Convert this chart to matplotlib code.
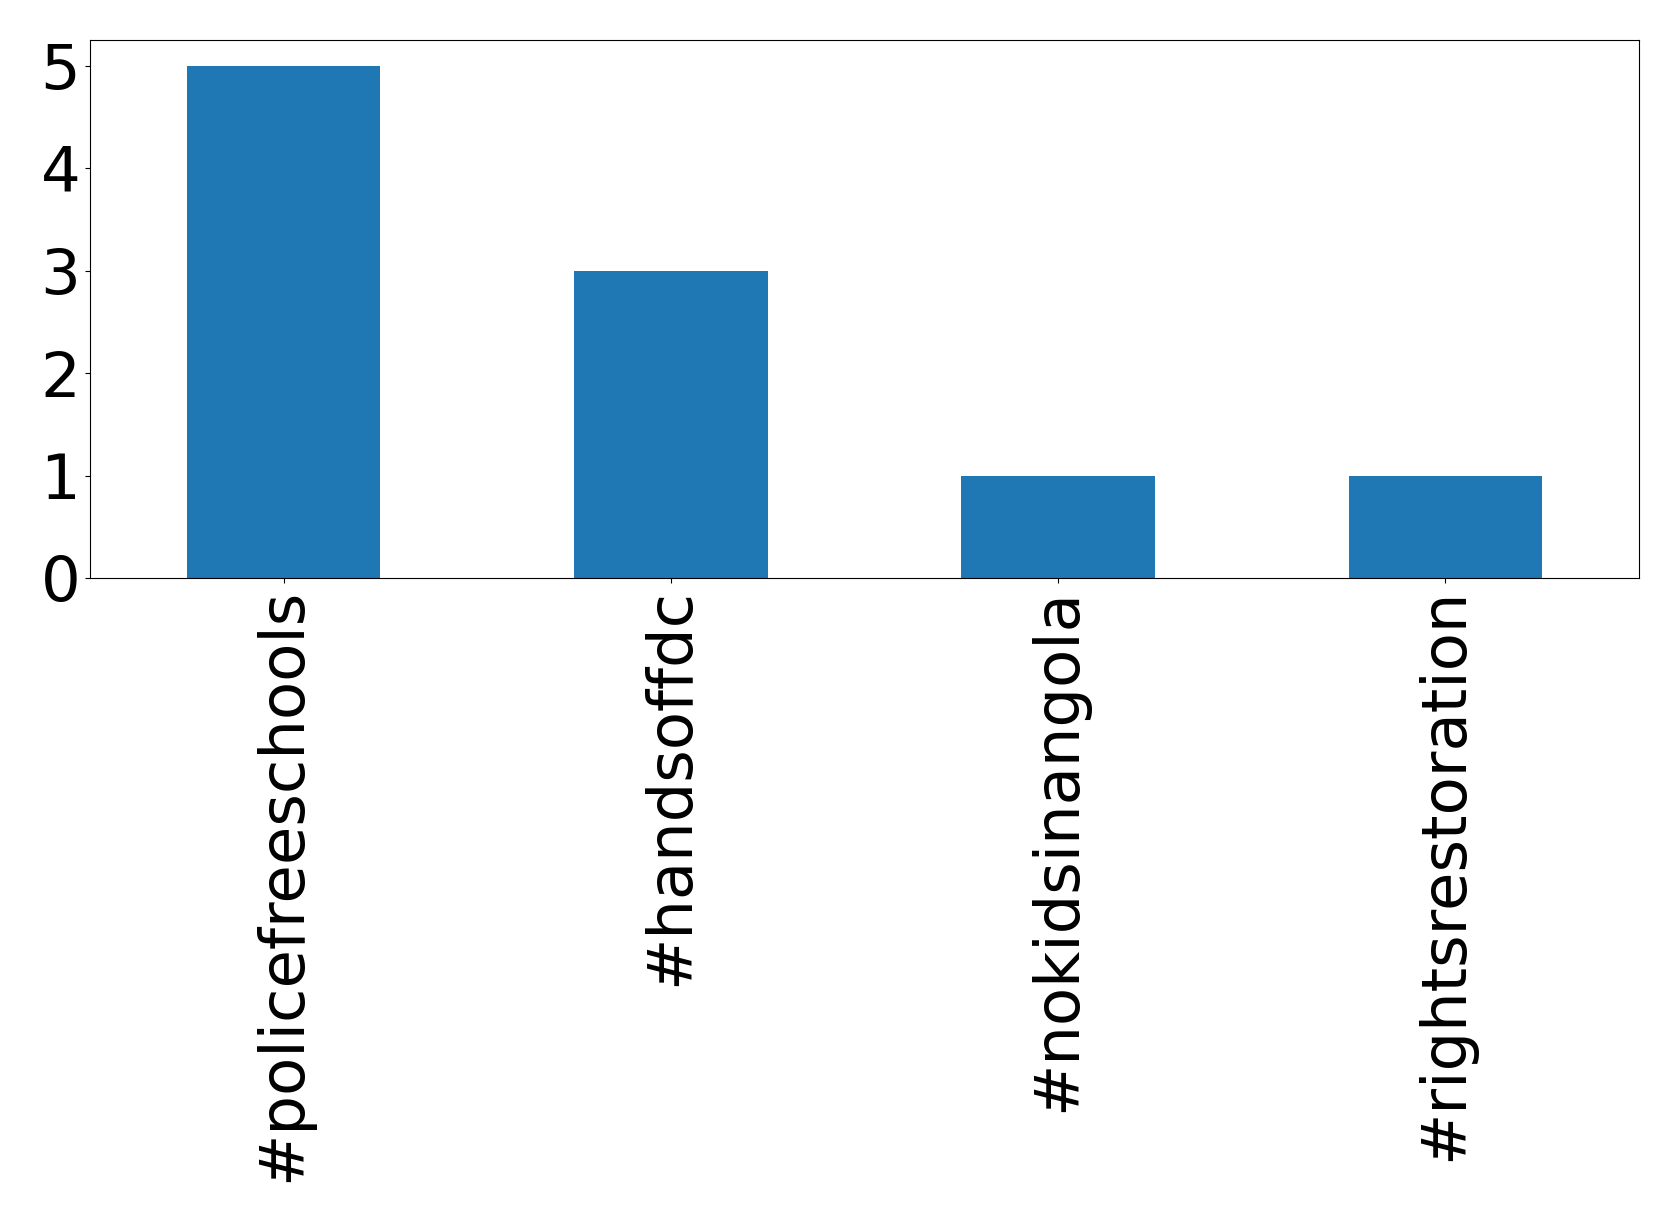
import matplotlib
matplotlib.use("Agg")
import matplotlib.pyplot as plt
import numpy as np

hashtags = ["#policefreeschools", "#handsoffdc", "#nokidsinangola", "#rightsrestoration"]
counts = [5, 3, 1, 1]

fig = plt.figure(figsize=(16.79, 12.22), dpi=100)
ax = fig.add_axes([90 / 1679, 1 - 578 / 1222, (1639 - 90) / 1679, (578 - 40) / 1222])

x = np.arange(len(hashtags))
ax.bar(x, counts, width=0.5, color="#1f77b4")
ax.set_xlim(-0.5, len(hashtags) - 0.5)
ax.set_ylim(0, 5.25)
ax.set_xticks(x)
ax.set_xticklabels(hashtags, rotation=90, fontsize=45)
ax.set_yticks([0, 1, 2, 3, 4, 5])
ax.tick_params(axis="y", labelsize=45)

fig.savefig("out.png", dpi=100)
